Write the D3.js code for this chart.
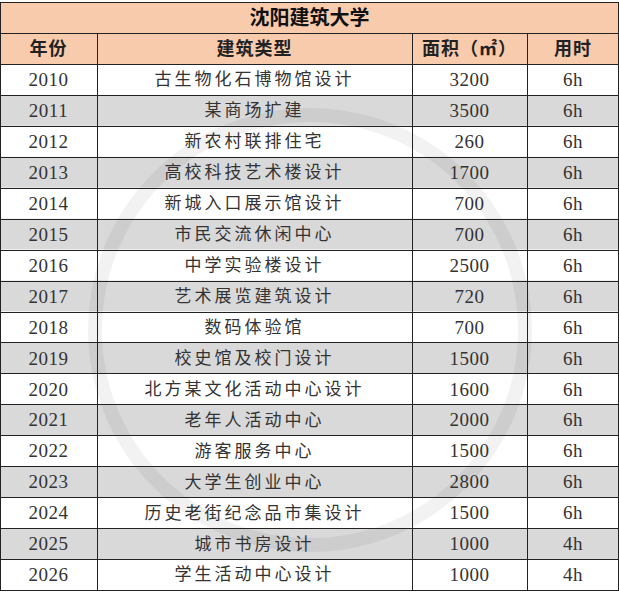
<!DOCTYPE html>
<html><head><meta charset="utf-8">
<script src="https://cdn.jsdelivr.net/npm/d3@7"></script>
<style>body{margin:0;background:#fff}</style>
</head><body>
<script>
var title = "沈阳建筑大学";
var headers = ["年份", "建筑类型", "面积（㎡）", "用时"];
var years = [2010,2011,2012,2013,2014,2015,2016,2017,2018,2019,2020,2021,2022,2023,2024,2025,2026];
var types = ["古生物化石博物馆设计","某商场扩建","新农村联排住宅","高校科技艺术楼设计","新城入口展示馆设计","市民交流休闲中心","中学实验楼设计","艺术展览建筑设计","数码体验馆","校史馆及校门设计","北方某文化活动中心设计","老年人活动中心","游客服务中心","大学生创业中心","历史老街纪念品市集设计","城市书房设计","学生活动中心设计"];
var areas = [3200,3500,260,1700,700,700,2500,720,700,1500,1600,2000,1500,2800,1500,1000,1000];
var hours = ["6h","6h","6h","6h","6h","6h","6h","6h","6h","6h","6h","6h","6h","6h","6h","4h","4h"];

var W = 619, H = 592;
var colEdges = [0, 97, 412, 527, 619];
var top0 = 2, titleH = 31, headH = 31;
var bodyTop = top0 + titleH + headH;
var cjk = "'Noto Sans CJK SC', sans-serif";
var serif = "'Liberation Serif', 'DejaVu Serif', serif";

var svg = d3.select("body").append("svg").attr("width", W).attr("height", H);

var y = d3.scaleBand().domain(d3.range(years.length)).range([bodyTop, 590]);

// title + header background
svg.append("rect").attr("x",0).attr("y",top0).attr("width",W).attr("height",titleH+headH).attr("fill","#f8cbad");
svg.selectAll("rect.row").data(years).enter().append("rect")
  .attr("x",0).attr("y",function(d,i){return y(i);})
  .attr("width",W).attr("height",y.bandwidth())
  .attr("fill",function(d,i){return i%2 ? "#d9d9d9" : "#ffffff";});

// faint watermark
svg.append("circle").attr("cx",310).attr("cy",330).attr("r",215)
  .attr("fill","none").attr("stroke","#000").attr("stroke-opacity",0.05).attr("stroke-width",14);

// grid lines
var g = svg.append("g").attr("stroke","#222").attr("stroke-width",1);
g.append("line").attr("x1",0).attr("x2",W).attr("y1",top0+0.5).attr("y2",top0+0.5);
g.append("line").attr("x1",0).attr("x2",W).attr("y1",top0+titleH+0.5).attr("y2",top0+titleH+0.5);
g.selectAll("line.h").data(d3.range(years.length+1)).enter().append("line")
  .attr("x1",0).attr("x2",W)
  .attr("y1",function(i){return Math.round(i<years.length?y(i):590)+0.5;})
  .attr("y2",function(i){return Math.round(i<years.length?y(i):590)+0.5;});
g.selectAll("line.v").data(colEdges).enter().append("line")
  .attr("x1",function(d){return Math.min(d,W-1)+0.5;}).attr("x2",function(d){return Math.min(d,W-1)+0.5;})
  .attr("y1",function(d,i){return (i===0||i===4)?top0:top0+titleH;}).attr("y2",590);

svg.append("text").attr("x",W/2).attr("y",top0+titleH/2).attr("dy","0.35em")
  .attr("text-anchor","middle").attr("font-family",cjk).attr("font-weight","bold")
  .attr("font-size",20).attr("fill","#111").text(title);

svg.selectAll("text.hd").data(headers).enter().append("text")
  .attr("x",function(d,i){return (colEdges[i]+colEdges[i+1])/2;})
  .attr("y",top0+titleH/2+headH).attr("dy","0.35em").attr("text-anchor","middle")
  .attr("font-family",cjk).attr("font-weight","bold").attr("font-size",18)
  .attr("letter-spacing",1).attr("fill","#222")
  .text(function(d){return d;});

var cols = [years, types, areas, hours];
cols.forEach(function(arr, c){
  svg.selectAll("text.c"+c).data(arr).enter().append("text")
    .attr("x",(colEdges[c]+colEdges[c+1])/2)
    .attr("y",function(d,i){return y(i)+y.bandwidth()/2;})
    .attr("dy","0.35em").attr("text-anchor","middle")
    .attr("font-family", c===1 ? cjk : serif)
    .attr("font-size", c===1 ? 17 : 19)
    .attr("letter-spacing", c===1 ? 3 : 0.5)
    .attr("fill","#333")
    .text(function(d){return d;});
});
</script>
</body></html>
